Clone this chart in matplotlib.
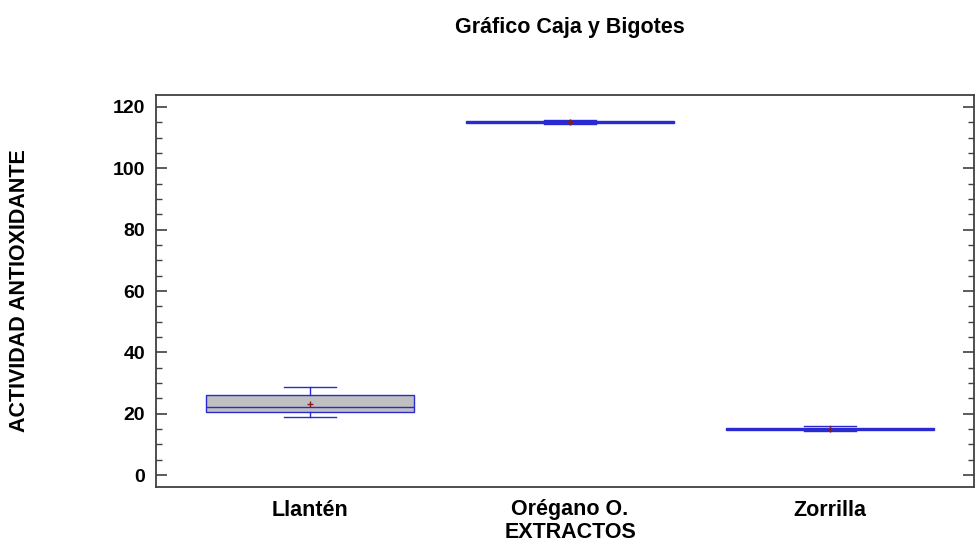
import matplotlib.pyplot as plt
from matplotlib.ticker import MultipleLocator

plt.rcParams['font.family'] = ['Liberation Sans', 'DejaVu Sans']

# datos
extractos = ['Llantén', 'Orégano O.', 'Zorrilla']
q1 = [20.5, 114.7, 14.6]
mediana = [22.1, 115.0, 15.0]
q3 = [26.0, 115.3, 15.4]
bigote_inf = [18.9, 114.3, 14.4]
bigote_sup = [28.6, 115.7, 16.0]
media = [23.1, 115.0, 15.0]

stats = []
for i, nombre in enumerate(extractos):
    stats.append({'label': nombre, 'q1': q1[i], 'med': mediana[i], 'q3': q3[i],
                  'whislo': bigote_inf[i], 'whishi': bigote_sup[i],
                  'mean': media[i], 'fliers': []})

azul = '#2a2ad0'
fig = plt.figure(figsize=(9.75, 5.43), dpi=100)
ax = fig.add_axes([156 / 975, 1 - 487 / 543, 818 / 975, 392 / 543])

ax.bxp(stats, positions=[1, 2, 3], widths=0.8, patch_artist=True, showmeans=True,
       boxprops=dict(facecolor='#c0c0c0', edgecolor=azul, linewidth=1.0),
       medianprops=dict(color=azul, linewidth=1.0),
       whiskerprops=dict(color=azul, linewidth=1.0),
       capprops=dict(color=azul, linewidth=1.0), capwidths=0.2,
       meanprops=dict(marker='+', markeredgecolor='#8b1a1a', markersize=5,
                      markeredgewidth=1))

ax.set_xlim(0.408, 3.554)
ax.set_ylim(-3.9, 123.9)
ax.yaxis.set_major_locator(MultipleLocator(20))
ax.yaxis.set_minor_locator(MultipleLocator(5))
ax.tick_params(axis='y', which='both', direction='in', left=True, right=True,
               color='#404040')
ax.tick_params(axis='y', which='major', length=8, width=1.2, pad=8)
ax.tick_params(axis='y', which='minor', length=4, width=1)
ax.tick_params(axis='x', length=0, pad=9)
for lbl in ax.get_yticklabels():
    lbl.set_fontweight('bold')
    lbl.set_fontsize(14)
for lbl in ax.get_xticklabels():
    lbl.set_fontweight('bold')
    lbl.set_fontsize(15.5)
for s in ax.spines.values():
    s.set_color('#404040')
    s.set_linewidth(1.3)

fig.text(570 / 975, 1 - 533 / 543, 'EXTRACTOS', ha='center', va='center',
         fontsize=15.5, fontweight='bold')
fig.text(20 / 975, 1 - 291 / 543, 'ACTIVIDAD ANTIOXIDANTE', ha='center', va='center',
         rotation=90, fontsize=15.5, fontweight='bold')
fig.text(570 / 975, 1 - 28 / 543, 'Gráfico Caja y Bigotes', ha='center', va='center',
         fontsize=15.5, fontweight='bold')

fig.savefig('out.png', dpi=100)
